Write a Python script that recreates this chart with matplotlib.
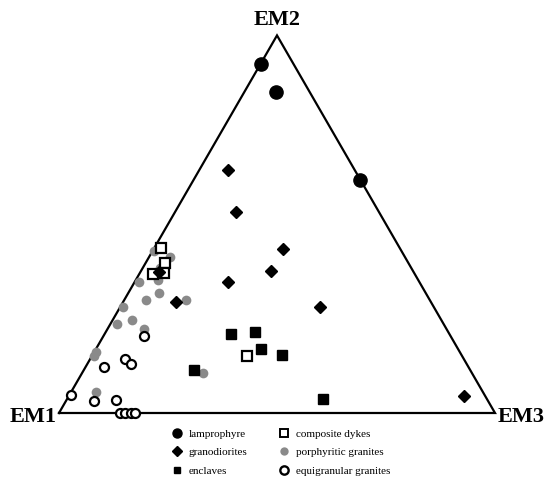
import numpy as np
import matplotlib.pyplot as plt
from matplotlib.lines import Line2D

# compositions in percent: (EM1, EM2, EM3)
lamprophyre = [(7.5, 92.5, 0.0), (7.7, 85.0, 7.3), (0.0, 61.7, 38.3)]
granodiorites = [(29.1, 64.4, 6.5), (32.8, 53.3, 13.9), (26.9, 43.4, 29.7),
                 (32.6, 37.6, 29.8), (43.9, 34.6, 21.5), (26.2, 28.0, 45.8),
                 (4.9, 4.5, 90.6), (58.4, 29.5, 12.1), (58.4, 37.3, 4.3)]
enclaves = [(50.0, 21.0, 29.0), (44.2, 21.5, 34.3), (45.2, 16.9, 37.9),
            (41.1, 15.4, 43.5), (63.4, 11.3, 25.3), (37.6, 3.7, 58.7)]
composite_dykes = [(54.9, 43.6, 1.5), (56.0, 39.6, 4.4), (60.2, 36.7, 3.1),
                   (57.4, 37.0, 5.6), (49.3, 15.1, 35.6)]
porphyritic = [(56.7, 43.0, 0.3), (53.9, 41.4, 4.7), (57.6, 38.4, 4.0),
               (59.7, 35.2, 5.1), (64.2, 34.8, 1.0), (61.2, 31.9, 6.9),
               (65.1, 29.9, 5.0), (55.9, 29.8, 14.3), (71.4, 28.0, 0.6),
               (70.9, 24.5, 4.6), (75.0, 23.5, 1.5), (69.4, 22.2, 8.4),
               (83.4, 16.1, 0.5), (84.4, 15.1, 0.5), (61.7, 10.7, 27.6),
               (88.7, 5.5, 5.8)]
equigranular = [(70.3, 20.3, 9.4), (77.6, 14.3, 8.1), (77.1, 13.0, 9.9),
                (83.5, 12.3, 4.2), (94.8, 4.8, 0.4), (90.5, 3.1, 6.4),
                (85.3, 3.4, 11.3), (85.9, 0.0, 14.1), (84.8, 0.0, 15.2),
                (83.6, 0.0, 16.4), (82.5, 0.0, 17.5)]


def tern(pts):
    a = np.array(pts, dtype=float) / 100.0
    b, c = a[:, 1], a[:, 2]
    return c + b / 2, b * np.sqrt(3) / 2


fig = plt.figure(figsize=(5.53, 4.79), dpi=100)
ax = fig.add_axes([0, 0, 1, 1])
ax.set_xlim(-59 / 436, 494 / 436)
ax.set_ylim(-66 / 436, 413 / 436)
ax.axis('off')

h = np.sqrt(3) / 2
ax.plot([0, 1, 0.5, 0], [0, 0, h, 0], color='black', lw=1.6, zorder=1,
        solid_joinstyle='miter')

serif = 'Liberation Serif'
ax.text(-0.005, -0.01, 'EM1', ha='right', va='center', fontsize=16,
        fontweight='bold', family=serif)
ax.text(1.005, -0.01, 'EM3', ha='left', va='center', fontsize=16,
        fontweight='bold', family=serif)
ax.text(0.5, h + 0.035, 'EM2', ha='center', va='center', fontsize=16,
        fontweight='bold', family=serif)

gray = '#8a8a8a'
x, y = tern(porphyritic)
ax.plot(x, y, 'o', ms=7, color=gray, mec='none', zorder=2)
x, y = tern(equigranular)
ax.plot(x, y, 'o', ms=6.5, mfc='white', mec='black', mew=1.6, zorder=3)
x, y = tern(enclaves)
ax.plot(x, y, 's', ms=6.5, color='black', zorder=3)
x, y = tern(composite_dykes)
ax.plot(x, y, 's', ms=6.5, mfc='white', mec='black', mew=1.6, zorder=4)
x, y = tern(granodiorites)
ax.plot(x, y, 'D', ms=6.2, color='black', zorder=4)
x, y = tern(lamprophyre)
ax.plot(x, y, 'o', ms=9.5, color='black', zorder=4)

handles = [
    Line2D([], [], ls='none', marker='o', ms=6.5, color='black'),
    Line2D([], [], ls='none', marker='D', ms=5, color='black'),
    Line2D([], [], ls='none', marker='s', ms=4.8, color='black'),
    Line2D([], [], ls='none', marker='s', ms=5.8, mfc='white', mec='black', mew=1.4),
    Line2D([], [], ls='none', marker='o', ms=6, color=gray, mec='none'),
    Line2D([], [], ls='none', marker='o', ms=6, mfc='white', mec='black', mew=1.7),
]
labels = ['lamprophyre', 'granodiorites', 'enclaves',
          'composite dykes', 'porphyritic granites', 'equigranular granites']
fig.legend(handles, labels, loc='upper left', bbox_to_anchor=(171 / 553, 1 - 429 / 479),
           ncol=2, frameon=False, prop={'family': serif, 'size': 8},
           handlelength=1.0, handletextpad=0.6, labelspacing=0.78,
           columnspacing=2.8, borderpad=0, borderaxespad=0)

fig.savefig('out.png', dpi=100)
